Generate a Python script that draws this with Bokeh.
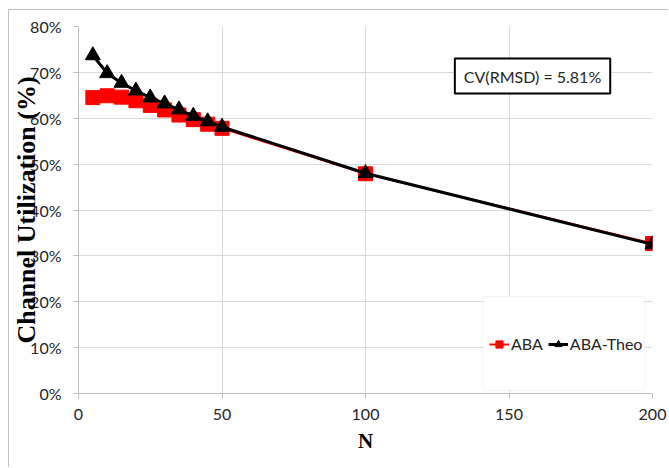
from bokeh.plotting import figure
from bokeh.models import (Range1d, NumeralTickFormatter, FixedTicker, Legend, LegendItem,
                          Label, BoxAnnotation)
from bokeh.embed import file_html
from bokeh.resources import INLINE

# ---- data ----
n_values = [5, 10, 15, 20, 25, 30, 35, 40, 45, 50, 100, 200]
aba = [0.645, 0.649, 0.646, 0.638, 0.628, 0.618, 0.607, 0.597, 0.587, 0.578, 0.479, 0.327]
aba_theo = [0.737, 0.698, 0.677, 0.660, 0.645, 0.632, 0.619, 0.605, 0.593, 0.581, 0.480, 0.325]
x_ticks = [0, 50, 100, 150, 200]
y_ticks = [0.0, 0.1, 0.2, 0.3, 0.4, 0.5, 0.6, 0.7, 0.8]
annotation_text = "CV(RMSD) = 5.81%"

TICK_FONT = "Lato"
TITLE_FONT = "Liberation Serif"

p = figure(width=660, height=458, output_backend="svg", toolbar_location=None,
           x_range=Range1d(0, 200), y_range=Range1d(0, 0.8),
           min_border_left=68, min_border_right=17, min_border_top=16, min_border_bottom=75)
p.styles = {"border-left": "1px solid #bfbfbf", "border-top": "1px solid #bfbfbf",
            "margin-left": "8px", "margin-top": "9px"}
p.outline_line_color = None
p.background_fill_color = "white"
p.border_fill_color = "white"

for ax in (p.xaxis[0], p.yaxis[0]):
    ax.axis_line_color = "#bfbfbf"
    ax.major_tick_line_color = "#bfbfbf"
    ax.major_tick_out = 5
    ax.major_tick_in = 0
    ax.minor_tick_line_color = None
    ax.major_label_text_font = TICK_FONT
    ax.major_label_text_font_size = "16px"
    ax.major_label_text_color = "#262626"
    ax.axis_label_text_font = TITLE_FONT
    ax.axis_label_text_font_style = "bold"
    ax.axis_label_text_color = "black"

p.xaxis.ticker = FixedTicker(ticks=x_ticks)
p.yaxis.ticker = FixedTicker(ticks=y_ticks)
p.yaxis.formatter = NumeralTickFormatter(format="0%")
p.xaxis.axis_label = "N"
p.yaxis.axis_label = "Channel Utilization (%)"
p.xaxis.axis_label_text_font_size = "21px"
p.yaxis.axis_label_text_font_size = "26px"
p.xaxis.major_label_standoff = 10
p.yaxis.major_label_standoff = 12
p.xaxis.axis_label_standoff = 6
p.yaxis.axis_label_standoff = -14

p.xgrid.ticker = FixedTicker(ticks=x_ticks)
p.ygrid.ticker = FixedTicker(ticks=y_ticks)
p.xgrid.grid_line_color = "#d9d9d9"
p.ygrid.grid_line_color = "#d9d9d9"

r_line = p.line(n_values, aba, line_color="#ff0000", line_width=2)
r_sq = p.scatter(n_values, aba, marker="square", size=14, fill_color="#ff0000",
                 line_color="#ff0000")
t_line = p.line(n_values, aba_theo, line_color="black", line_width=3)
t_tri = p.scatter(n_values, aba_theo, marker="triangle", size=15, fill_color="black",
                  line_color="black")

# legend frame
p.add_layout(BoxAnnotation(left=141.1, right=197.2, bottom=0.0065, top=0.2114,
                           fill_color="white", fill_alpha=1.0,
                           line_color="#d9d9d9", line_width=1))

legend = Legend(items=[LegendItem(label="ABA", renderers=[r_line, r_sq]),
                       LegendItem(label="ABA-Theo", renderers=[t_line, t_tri])],
                orientation="horizontal", location=(411, 40),
                padding=0, margin=0, spacing=5, label_standoff=2,
                glyph_width=20, glyph_height=18,
                label_text_font=TICK_FONT, label_text_font_size="16px",
                label_text_color="#262626",
                background_fill_alpha=0, border_line_alpha=0)
p.add_layout(legend)

p.add_layout(Label(x=158.2, y=0.692, text=annotation_text, text_align="center",
                   text_baseline="middle", text_font=TICK_FONT, text_font_size="16px",
                   text_color="#262626",
                   border_line_color="black", border_line_width=2,
                   background_fill_color="white", padding=dict(x=9, y=8)))

open("out.html", "w").write(file_html(p, INLINE))
